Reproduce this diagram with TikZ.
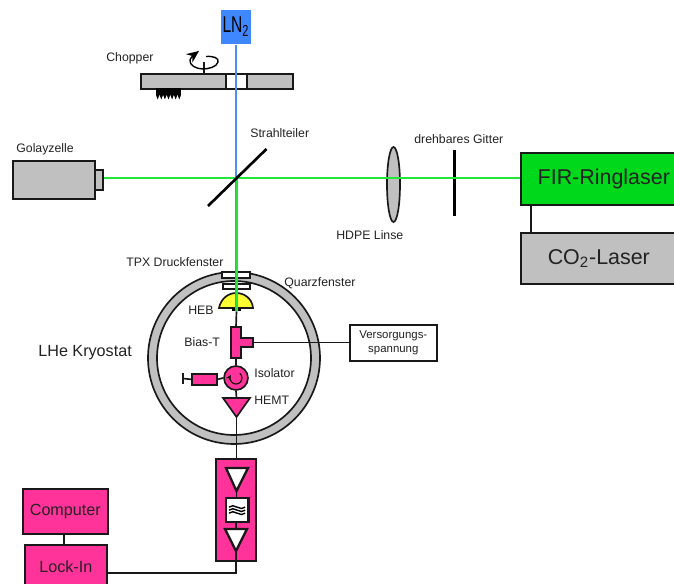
\documentclass[tikz,border=0pt]{standalone}
\usepackage{fontspec}
\setmainfont{Liberation Sans}
\usetikzlibrary{shapes.geometric,arrows.meta,calc}
\definecolor{pinkpart}{HTML}{FF3399}
\definecolor{grayworks}{HTML}{C0C0C0}
\definecolor{lnblue}{HTML}{3F87FF}
\definecolor{beamblue}{HTML}{4A90F5}
\definecolor{beamgreen}{HTML}{22E63A}
\definecolor{firgreen}{HTML}{00D81C}
\definecolor{hebyellow}{HTML}{FFFF33}
\definecolor{darktext}{HTML}{222222}
\tikzset{
  outline/.style={draw=black!90, line width=0.95pt},
  wire/.style={draw=black!90, line width=0.95pt},
  boxbase/.style={outline, inner sep=0pt, anchor=north west},
  pinkbox/.style={boxbase, fill=pinkpart, text=darktext, font=\fontsize{9.2}{11}\selectfont},
  graybox/.style={boxbase, fill=grayworks},
  partlabel/.style={anchor=west, inner sep=0pt, text=darktext, font=\fontsize{7}{8.5}\selectfont},
  beam/.style={line width=0.8pt},
  ampwedge/.style={outline, fill=white, line width=1.3pt},
}
\begin{document}
\begin{tikzpicture}[x=0.02cm,y=-0.02cm]
\clip (0,0) rectangle (674,584);
% LN2 source and chopper wheel
\node[boxbase, draw=none, fill=lnblue, minimum width=0.6cm, minimum height=0.68cm, font=\fontsize{13}{15}\selectfont] (lnbox) at (220,9) {\scalebox{0.68}[1]{LN$_{\mathrm 2}$}};
\node[graybox, minimum width=3.04cm, minimum height=0.3cm] (chopper) at (140,73) {};
\node[boxbase, fill=white, minimum width=0.42cm, minimum height=0.3cm] (choppergap) at (225,73) {};
\fill[black] (156,88) rectangle (181,95);
\foreach \tx in {156,159.6,...,178} {
  \fill[black] (\tx,95) -- (\tx+3.4,95) -- (\tx+1.7,99.5) -- cycle;
}
\coordinate (axistop) at (204,62);
\draw[wire] (chopper.north -| axistop) -- (axistop);
\draw[line width=0.8pt, -{Stealth[length=7pt,width=6pt]}] (206,56.5) .. controls (214,56) and (219,58) .. (218,62) .. controls (217,67) and (208,69) .. (203,69) .. controls (196,69) and (189,65) .. (190,60) .. controls (191,57) and (195,54) .. (199,51);
\node[partlabel] (chopperlabel) at (106,58) {Chopper};
% Golay cell
\node[graybox, minimum width=1.64cm, minimum height=0.76cm] (golay) at (12,160) {};
\node[graybox, minimum width=0.16cm, minimum height=0.4cm] (golayhead) at (94,169) {};
\node[partlabel] (golaylabel) at (16,149) {Golayzelle};
% lens, grating and lasers
\node[ellipse, outline, fill=grayworks, minimum width=0.26cm, minimum height=1.5cm, inner sep=0pt] (lens) at (393.5,184.5) {};
\node[fill=black, inner sep=0pt, minimum width=0.07cm, minimum height=1.32cm] (grating) at (454.5,183) {};
\node[boxbase, fill=firgreen, text=darktext, minimum width=3.32cm, minimum height=1.04cm, font=\fontsize{12.2}{14}\selectfont] (fir) at (520,152) {FIR-Ringlaser};
\node[graybox, text=darktext, minimum width=3.12cm, minimum height=1.02cm, font=\fontsize{12.2}{14}\selectfont] (co2) at (520,232) {CO$_{\mathrm 2}$-Laser};
\coordinate (laserlink) at (531,218);
\draw[wire] (fir.south -| laserlink) -- (co2.north -| laserlink);
\node[partlabel] (gratinglabel) at (414,139) {drehbares Gitter};
\node[partlabel] (lenslabel) at (336,235) {HDPE Linse};
\node[partlabel] (splitterlabel) at (250,133) {Strahlteiler};
% cryostat
\coordinate (cryo) at (234,358);
\draw[outline, fill=grayworks] (cryo) circle[radius=86];
\draw[outline, fill=white] (cryo) circle[radius=77];
\node[boxbase, fill=white, minimum width=0.56cm, minimum height=0.12cm] (tpx) at (221,271) {};
\node[boxbase, fill=white, minimum width=0.54cm, minimum height=0.1cm] (quarz) at (222,283) {};
\node[anchor=west, inner sep=0pt, text=darktext, font=\fontsize{9.2}{11}\selectfont] (cryolabel) at (38,353) {LHe Kryostat};
\node[partlabel] (tpxlabel) at (126,262) {TPX Druckfenster};
\node[partlabel] (quarzlabel) at (284,283) {Quarzfenster};
% parts inside
\draw[outline, fill=hebyellow] (219,308) .. controls (221,298) and (229,293) .. (236,293) .. controls (244,293) and (252,298) .. (253,308) -- cycle;
\node[fill=black, inner sep=0pt, minimum width=0.18cm, minimum height=0.06cm] (hebbase) at (236.5,309.5) {};
\draw[outline, fill=pinkpart] (231,327) -- (241,327) -- (241,338) -- (253,338) -- (253,347) -- (241,347) -- (241,358) -- (231,358) -- cycle;
\coordinate (biasin) at (236,327);
\coordinate (biasout) at (236,358);
\coordinate (biasside) at (253,342.5);
\node[boxbase, fill=white, text=darktext, align=center, minimum width=1.74cm, minimum height=0.72cm, font=\fontsize{6.5}{8}\selectfont] (supply) at (349,324) {Versorgungs-\\spannung};
\draw[wire] (hebbase.south) -- (biasin);
\draw[wire] (biasside) -- (biasside -| supply.west);
\node[circle, outline, fill=pinkpart, minimum size=0.48cm, inner sep=0pt] (isolator) at (236,378) {};
\draw[line width=0.6pt, -{Stealth[length=3pt,width=3pt]}] (isolator) ++(-50:6) arc[start angle=-50, end angle=210, radius=6];
\node[boxbase, fill=pinkpart, minimum width=0.5cm, minimum height=0.22cm] (isoload) at (191,373) {};
\coordinate (isoend) at (183,378.5);
\draw[wire] (isolator.west) -- (isoload.east);
\draw[wire] (isoload.west) -- (isoend);
\draw[wire] (183,373.5) -- (183,384);
\draw[wire] (biasout) -- (isolator.north);
\coordinate (hemtin) at (236.5,398);
\coordinate (hemtout) at (236.5,417);
\draw[outline, fill=pinkpart] (223,398) -- (250,398) -- (hemtout) -- cycle;
\draw[wire] (isolator.south) -- (hemtin);
\node[partlabel] (heblabel) at (188,310) {HEB};
\node[partlabel] (biaslabel) at (184,342) {Bias-T};
\node[partlabel] (isolabel) at (254,373) {Isolator};
\node[partlabel] (hemtlabel) at (254,400) {HEMT};
% amplifier chain
\node[pinkbox, minimum width=0.8cm, minimum height=2.04cm] (ampchain) at (215,458) {};
\draw[wire] (hemtout) -- (ampchain.north -| hemtout);
\coordinate (ampa) at (236.5,468);
\coordinate (ampb) at (236.5,491);
\coordinate (ampc) at (236,529);
\coordinate (ampd) at (236,551);
\node[boxbase, fill=white, line width=1.3pt, minimum width=0.46cm, minimum height=0.48cm] (filter) at (224.5,497) {};
\draw[wire] (ampb) -- (filter.north -| ampb);
\draw[wire] (filter.south -| ampc) -- (ampc);
\draw[ampwedge] (226,468) -- (248,468) -- (ampb) -- cycle;
\draw[ampwedge] (225,529) -- (247,529) -- (ampd) -- cycle;
\foreach \wy in {-3,0,3} {
  \draw[line width=0.8pt] ($(filter)+(-8,\wy)$) .. controls +(4,-5) and +(-4,5) .. ($(filter)+(8,\wy)$);
}
% readout
\node[pinkbox, minimum width=1.7cm, minimum height=0.9cm] (computer) at (22,488) {Computer};
\node[pinkbox, minimum width=1.64cm, minimum height=0.86cm] (lockin) at (24,544) {Lock-In};
\coordinate (readlink) at (64,538);
\draw[wire] (computer.south -| readlink) -- (lockin.north -| readlink);
\coordinate (lockturn) at (236,573);
\draw[wire] (ampd) -- (lockturn) -- (lockturn -| lockin.east);
% beams
\coordinate (split) at (237,178);
\draw[beam, beamblue] (lnbox.south) -- (lnbox.south |- hebbase.south);
\draw[beam, beamgreen] (fir.west |- split) -- (golayhead.east |- split);
\draw[beam, beamgreen] (split) -- (split |- hebbase.south);
\coordinate (splitlow) at (208,206);
\coordinate (splithigh) at (266.5,149);
\draw[line width=1.5pt, black] (splitlow) -- (splithigh);
\end{tikzpicture}
\end{document}
